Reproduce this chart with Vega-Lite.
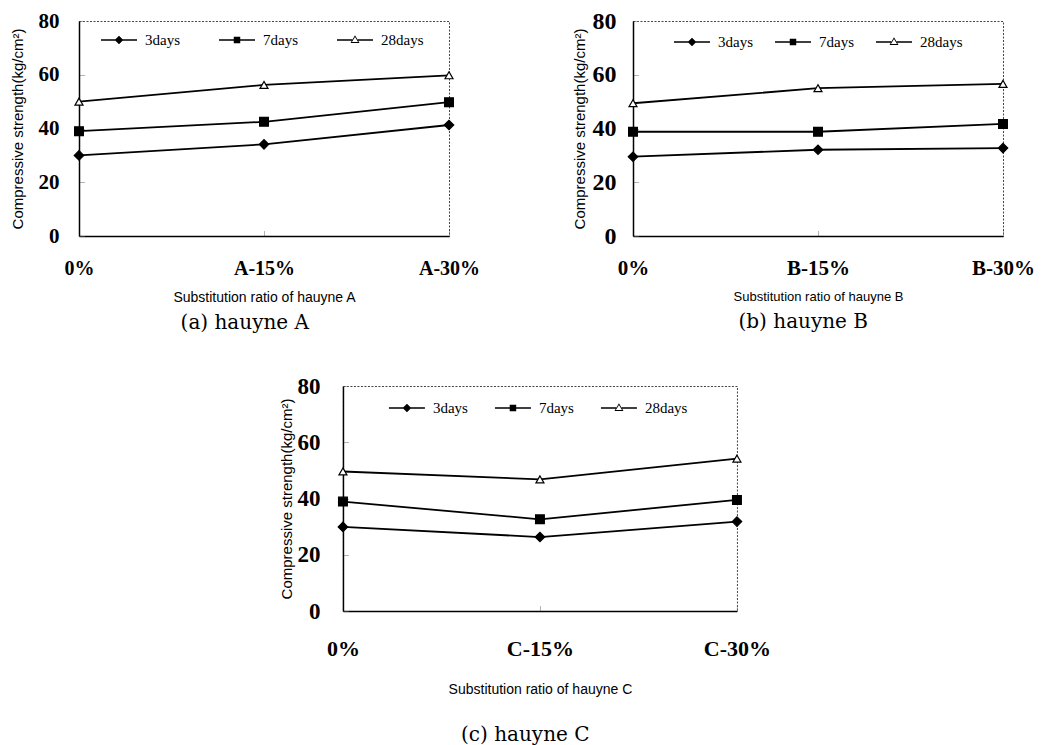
{
  "$schema": "https://vega.github.io/schema/vega-lite/v6.json",
  "background": "white",
  "padding": {"left": 9, "top": 8, "right": 5, "bottom": 0},
  "config": {
    "view": {"stroke": "#444", "strokeDash": [2, 1.5], "strokeWidth": 1},
    "axis": {"domainColor": "black", "domainWidth": 1.5, "ticks": true, "tickSize": -5, "tickColor": "#666", "tickWidth": 1, "tickDash": [1, 1], "grid": false, "labelColor": "black", "titleColor": "black", "titleFontWeight": "normal", "labelFont": "Liberation Serif", "labelFontWeight": "bold", "titleFont": "Liberation Sans"},
    "legend": {"orient": "none", "direction": "horizontal", "title": null, "symbolSize": 1296, "symbolStrokeWidth": 0, "symbolFillColor": "black", "symbolOpacity": 1, "labelFont": "Liberation Serif", "labelFontSize": 15, "labelColor": "black", "labelOffset": 8, "columnPadding": 31, "gridAlign": "all", "padding": 0},
    "title": {"font": "DejaVu Serif", "fontSize": 20, "fontWeight": "normal", "color": "black", "orient": "bottom", "anchor": "middle", "frame": "bounds"}
  },
  "datasets": {
    "A": [
      {"ratio": "0%", "series": "3days", "value": 30},
      {"ratio": "A-15%", "series": "3days", "value": 34.1},
      {"ratio": "A-30%", "series": "3days", "value": 41.3},
      {"ratio": "0%", "series": "7days", "value": 39},
      {"ratio": "A-15%", "series": "7days", "value": 42.5},
      {"ratio": "A-30%", "series": "7days", "value": 49.8},
      {"ratio": "0%", "series": "28days", "value": 50},
      {"ratio": "A-15%", "series": "28days", "value": 56.2},
      {"ratio": "A-30%", "series": "28days", "value": 59.8}
    ],
    "B": [
      {"ratio": "0%", "series": "3days", "value": 29.5},
      {"ratio": "B-15%", "series": "3days", "value": 32.1},
      {"ratio": "B-30%", "series": "3days", "value": 32.7},
      {"ratio": "0%", "series": "7days", "value": 38.8},
      {"ratio": "B-15%", "series": "7days", "value": 38.8},
      {"ratio": "B-30%", "series": "7days", "value": 41.7},
      {"ratio": "0%", "series": "28days", "value": 49.4},
      {"ratio": "B-15%", "series": "28days", "value": 55},
      {"ratio": "B-30%", "series": "28days", "value": 56.6}
    ],
    "C": [
      {"ratio": "0%", "series": "3days", "value": 29.9},
      {"ratio": "C-15%", "series": "3days", "value": 26.3},
      {"ratio": "C-30%", "series": "3days", "value": 31.8},
      {"ratio": "0%", "series": "7days", "value": 38.9},
      {"ratio": "C-15%", "series": "7days", "value": 32.6},
      {"ratio": "C-30%", "series": "7days", "value": 39.5},
      {"ratio": "0%", "series": "28days", "value": 49.6},
      {"ratio": "C-15%", "series": "28days", "value": 46.8},
      {"ratio": "C-30%", "series": "28days", "value": 54.2}
    ]
  },
  "spacing": 40,
  "center": true,
  "vconcat": [
    {
      "spacing": 90,
      "hconcat": [
        {
          "width": 370, "height": 215,
          "data": {"name": "A"},
          "title": {"text": "(a) hauyne A", "offset": 9},
          "encoding": {
            "x": {"field": "ratio", "type": "ordinal", "sort": null, "scale": {"type": "point", "padding": 0}, "axis": {"title": "Substitution ratio of hauyne A", "labelAngle": 0, "labelFontSize": 20, "labelPadding": 27, "titleFontSize": 14, "titlePadding": 12}},
            "y": {"field": "value", "type": "quantitative", "scale": {"domain": [0, 80]}, "axis": {"title": "Compressive strength(kg/cm²)", "values": [0, 20, 40, 60, 80], "labelFontSize": 21, "labelPadding": 25, "titleFontSize": 15, "titlePadding": 13}}
          },
          "layer": [
            {"mark": {"type": "line", "color": "black", "strokeWidth": 1.8}, "encoding": {"detail": {"field": "series"}}},
            {"mark": {"type": "point", "stroke": "black", "strokeWidth": 1.2, "opacity": 1},
             "encoding": {
               "shape": {"field": "series", "scale": {"domain": ["3days", "7days", "28days"], "range": ["diamond", "square", "triangle-up"]}, "legend": null},
               "size": {"field": "series", "scale": {"domain": ["3days", "7days", "28days"], "range": [90, 64, 110]}, "legend": null},
               "fill": {"field": "series", "scale": {"domain": ["3days", "7days", "28days"], "range": ["black", "black", "white"]}, "legend": null}}},
            {"mark": {"type": "point", "filled": true, "fill": "black", "strokeWidth": 0, "size": 0},
             "encoding": {
               "shape": {"field": "series", "scale": {"domain": ["3days", "7days", "28days"], "range": ["M-1,-0.045H-0.2V0.045H-1ZM0.2,-0.045H1V0.045H0.2ZM0,-0.24L0.24,0L0,0.24L-0.24,0Z", "M-1,-0.045H-0.17V0.045H-1ZM0.17,-0.045H1V0.045H0.17ZM-0.18,-0.18H0.18V0.18H-0.18Z", "M-1,-0.045H-0.15V0.045H-1ZM0.15,-0.045H1V0.045H0.15ZM0,-0.26L0.25,0.17L-0.25,0.17ZM0,-0.16L-0.17,0.11L0.17,0.11Z"]}, "legend": {"legendX": 22, "legendY": 1}}}}
          ],
          "resolve": {"scale": {"shape": "independent", "fill": "independent", "size": "independent"}}
        },
        {
          "width": 370, "height": 215,
          "data": {"name": "B"},
          "title": {"text": "(b) hauyne B", "offset": 9},
          "encoding": {
            "x": {"field": "ratio", "type": "ordinal", "sort": null, "scale": {"type": "point", "padding": 0}, "axis": {"title": "Substitution ratio of hauyne B", "labelAngle": 0, "labelFontSize": 21, "labelPadding": 26, "titleFontSize": 13, "titlePadding": 12}},
            "y": {"field": "value", "type": "quantitative", "scale": {"domain": [0, 80]}, "axis": {"title": "Compressive strength(kg/cm²)", "values": [0, 20, 40, 60, 80], "labelFontSize": 24, "labelPadding": 22, "titleFontSize": 15, "titlePadding": 5}}
          },
          "layer": [
            {"mark": {"type": "line", "color": "black", "strokeWidth": 1.8}, "encoding": {"detail": {"field": "series"}}},
            {"mark": {"type": "point", "stroke": "black", "strokeWidth": 1.2, "opacity": 1},
             "encoding": {
               "shape": {"field": "series", "scale": {"domain": ["3days", "7days", "28days"], "range": ["diamond", "square", "triangle-up"]}, "legend": null},
               "size": {"field": "series", "scale": {"domain": ["3days", "7days", "28days"], "range": [90, 64, 110]}, "legend": null},
               "fill": {"field": "series", "scale": {"domain": ["3days", "7days", "28days"], "range": ["black", "black", "white"]}, "legend": null}}},
            {"mark": {"type": "point", "filled": true, "fill": "black", "strokeWidth": 0, "size": 0},
             "encoding": {
               "shape": {"field": "series", "scale": {"domain": ["3days", "7days", "28days"], "range": ["M-1,-0.045H-0.2V0.045H-1ZM0.2,-0.045H1V0.045H0.2ZM0,-0.24L0.24,0L0,0.24L-0.24,0Z", "M-1,-0.045H-0.17V0.045H-1ZM0.17,-0.045H1V0.045H0.17ZM-0.18,-0.18H0.18V0.18H-0.18Z", "M-1,-0.045H-0.15V0.045H-1ZM0.15,-0.045H1V0.045H0.15ZM0,-0.26L0.25,0.17L-0.25,0.17ZM0,-0.16L-0.17,0.11L0.17,0.11Z"]}, "legend": {"legendX": 41, "legendY": 3, "columnPadding": 14}}}}
          ],
          "resolve": {"scale": {"shape": "independent", "fill": "independent", "size": "independent"}}
        }
      ]
    },
    {
      "width": 394, "height": 225,
      "data": {"name": "C"},
      "title": {"text": "(c) hauyne C", "offset": 29},
      "encoding": {
        "x": {"field": "ratio", "type": "ordinal", "sort": null, "scale": {"type": "point", "padding": 0}, "axis": {"title": "Substitution ratio of hauyne C", "labelAngle": 0, "labelFontSize": 22, "labelPadding": 32, "titleFontSize": 14, "titlePadding": 23}},
        "y": {"field": "value", "type": "quantitative", "scale": {"domain": [0, 80]}, "axis": {"title": "Compressive strength(kg/cm²)", "values": [0, 20, 40, 60, 80], "labelFontSize": 23, "labelPadding": 28, "titleFontSize": 15, "titlePadding": 2}}
      },
      "layer": [
        {"mark": {"type": "line", "color": "black", "strokeWidth": 1.8}, "encoding": {"detail": {"field": "series"}}},
        {"mark": {"type": "point", "stroke": "black", "strokeWidth": 1.2, "opacity": 1},
         "encoding": {
           "shape": {"field": "series", "scale": {"domain": ["3days", "7days", "28days"], "range": ["diamond", "square", "triangle-up"]}, "legend": null},
           "size": {"field": "series", "scale": {"domain": ["3days", "7days", "28days"], "range": [90, 64, 110]}, "legend": null},
           "fill": {"field": "series", "scale": {"domain": ["3days", "7days", "28days"], "range": ["black", "black", "white"]}, "legend": null}}},
        {"mark": {"type": "point", "filled": true, "fill": "black", "strokeWidth": 0, "size": 0},
         "encoding": {
           "shape": {"field": "series", "scale": {"domain": ["3days", "7days", "28days"], "range": ["M-1,-0.045H-0.2V0.045H-1ZM0.2,-0.045H1V0.045H0.2ZM0,-0.24L0.24,0L0,0.24L-0.24,0Z", "M-1,-0.045H-0.17V0.045H-1ZM0.17,-0.045H1V0.045H0.17ZM-0.18,-0.18H0.18V0.18H-0.18Z", "M-1,-0.045H-0.15V0.045H-1ZM0.15,-0.045H1V0.045H0.15ZM0,-0.26L0.25,0.17L-0.25,0.17ZM0,-0.16L-0.17,0.11L0.17,0.11Z"]}, "legend": {"legendX": 46, "legendY": 4, "columnPadding": 19}}}}
      ],
      "resolve": {"scale": {"shape": "independent", "fill": "independent", "size": "independent"}}
    }
  ]
}
